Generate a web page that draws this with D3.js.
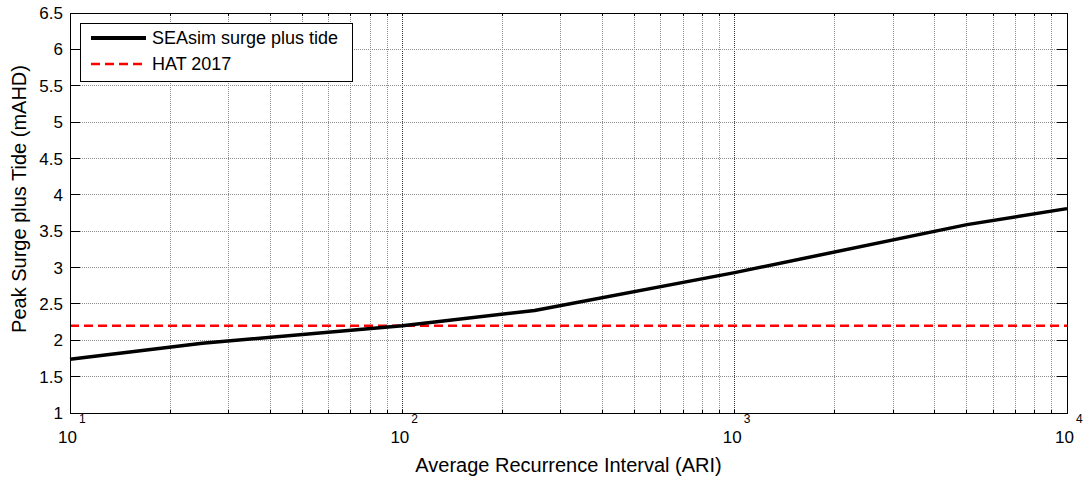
<!DOCTYPE html>
<html>
<head>
<meta charset="utf-8">
<script src="https://cdn.jsdelivr.net/npm/d3@7"></script>
<style>
  html, body { margin: 0; padding: 0; background: #fff; }
  svg { display: block; font-family: "Liberation Sans", Arial, sans-serif; }
</style>
</head>
<body>
<svg id="chart" width="1086" height="480"></svg>
<script>
// ---- data ----
const ari = [10, 25, 100, 250, 1000, 5000, 10000];
const surgeTide = [1.74, 1.96, 2.2, 2.41, 2.93, 3.59, 3.81];
const hat2017 = 2.2;
const yTicks = [1, 1.5, 2, 2.5, 3, 3.5, 4, 4.5, 5, 5.5, 6, 6.5];
const xDecades = [1, 2, 3, 4];
const seriesNames = ["SEAsim surge plus tide", "HAT 2017"];
const xTitle = "Average Recurrence Interval (ARI)";
const yTitle = "Peak Surge plus Tide (mAHD)";

// ---- layout ----
const m = { left: 70, right: 1067, top: 13, bottom: 413 };
const svg = d3.select("#chart");
const x = d3.scaleLog().domain([10, 10000]).range([m.left, m.right]);
const y = d3.scaleLinear().domain([1, 6.5]).range([m.bottom, m.top]);

const xMinor = [];
[10, 100, 1000].forEach(d => { for (let k = 2; k <= 9; k++) xMinor.push(d * k); });
const xMajor = xDecades.map(e => Math.pow(10, e));

const g = svg.append("g");

// grid
g.selectAll("line.gx").data(xMinor).enter().append("line")
  .attr("x1", d => x(d)).attr("x2", d => x(d))
  .attr("y1", m.top).attr("y2", m.bottom)
  .attr("stroke", "#8c8c8c").attr("stroke-width", 1).attr("stroke-dasharray", "1,1")
  .attr("shape-rendering", "crispEdges");
g.selectAll("line.gxM").data(xMajor.slice(1, 3)).enter().append("line")
  .attr("x1", d => x(d)).attr("x2", d => x(d))
  .attr("y1", m.top).attr("y2", m.bottom)
  .attr("stroke", "#333").attr("stroke-width", 1).attr("stroke-dasharray", "1,1")
  .attr("shape-rendering", "crispEdges");
g.selectAll("line.gy").data(yTicks.slice(1, -1)).enter().append("line")
  .attr("x1", m.left).attr("x2", m.right)
  .attr("y1", d => y(d)).attr("y2", d => y(d))
  .attr("stroke", "#8c8c8c").attr("stroke-width", 1).attr("stroke-dasharray", "1,1")
  .attr("shape-rendering", "crispEdges");

// ticks (inward)
const tickG = g.append("g").attr("stroke", "#000").attr("stroke-width", 1).attr("shape-rendering", "crispEdges");
yTicks.forEach(v => {
  tickG.append("line").attr("x1", m.left).attr("x2", m.left + 10).attr("y1", y(v)).attr("y2", y(v));
  tickG.append("line").attr("x1", m.right - 10).attr("x2", m.right).attr("y1", y(v)).attr("y2", y(v));
});
xMinor.concat(xMajor).forEach(v => {
  tickG.append("line").attr("x1", x(v)).attr("x2", x(v)).attr("y1", m.bottom).attr("y2", m.bottom - 3);
  tickG.append("line").attr("x1", x(v)).attr("x2", x(v)).attr("y1", m.top).attr("y2", m.top + 3);
});

// HAT line
g.append("line")
  .attr("x1", x(10)).attr("x2", x(10000))
  .attr("y1", y(hat2017)).attr("y2", y(hat2017))
  .attr("stroke", "#ff0000").attr("stroke-width", 2.5).attr("stroke-dasharray", "9,5");

// SEAsim line
const line = d3.line().x((d, i) => x(ari[i])).y(d => y(d));
g.append("path").datum(surgeTide)
  .attr("d", line).attr("fill", "none")
  .attr("stroke", "#000").attr("stroke-width", 3.5).attr("stroke-linejoin", "round");

// axes box
g.append("rect")
  .attr("x", m.left).attr("y", m.top)
  .attr("width", m.right - m.left).attr("height", m.bottom - m.top)
  .attr("fill", "none").attr("stroke", "#000").attr("stroke-width", 1)
  .attr("shape-rendering", "crispEdges");

// y tick labels
g.selectAll("text.yt").data(yTicks).enter().append("text")
  .attr("x", m.left - 7).attr("y", d => y(d)).attr("dy", "0.36em")
  .attr("text-anchor", "end").attr("font-size", 17).attr("fill", "#000")
  .text(d => d);

// x tick labels (10^n)
xDecades.forEach(e => {
  const px = x(Math.pow(10, e));
  g.append("text")
    .attr("x", px + 7).attr("y", 443)
    .attr("text-anchor", "end").attr("font-size", 17).attr("fill", "#000")
    .text("10");
  g.append("text")
    .attr("x", px + 9).attr("y", 423)
    .attr("text-anchor", "start").attr("font-size", 12).attr("fill", "#000")
    .text(e);
});

// axis titles
g.append("text")
  .attr("x", (m.left + m.right) / 2).attr("y", 472)
  .attr("text-anchor", "middle").attr("font-size", 20).attr("fill", "#000")
  .text(xTitle);
g.append("text")
  .attr("transform", `translate(26, 199) rotate(-90)`)
  .attr("text-anchor", "middle").attr("font-size", 20).attr("fill", "#000")
  .text(yTitle);

// legend
const lg = g.append("g");
lg.append("rect")
  .attr("x", 80).attr("y", 23).attr("width", 272).attr("height", 58)
  .attr("fill", "#fff").attr("stroke", "#000").attr("stroke-width", 1)
  .attr("shape-rendering", "crispEdges");
const legendItems = [
  { name: seriesNames[0], color: "#000", w: 4, dash: null, yy: 38 },
  { name: seriesNames[1], color: "#ff0000", w: 2.5, dash: "9,5", yy: 64 }
];
legendItems.forEach(it => {
  lg.append("line").attr("x1", 91).attr("x2", 146).attr("y1", it.yy).attr("y2", it.yy)
    .attr("stroke", it.color).attr("stroke-width", it.w)
    .attr("stroke-dasharray", it.dash);
  lg.append("text").attr("x", 152).attr("y", it.yy).attr("dy", "0.36em")
    .attr("font-size", 18).attr("fill", "#000").text(it.name);
});
</script>
</body>
</html>
